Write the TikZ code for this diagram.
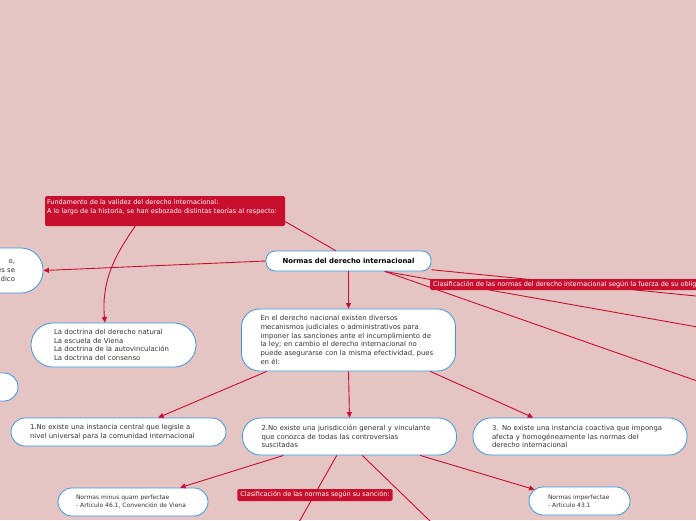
\documentclass[tikz,border=0pt]{standalone}
\usepackage{fontspec}
\setmainfont{DejaVu Sans}
\usetikzlibrary{arrows.meta, calc}
\definecolor{bgpink}{RGB}{229,196,196}
\definecolor{labelred}{RGB}{200,16,46}
\definecolor{edgeblue}{RGB}{56,152,222}
\tikzset{
  topic/.style = {
    rectangle, draw=edgeblue, fill=white, line width=0.8pt,
    text=black!80, align=left, inner ysep=0pt,
    font=\fontsize{6.9}{8.7}\selectfont
  },
  smalltopic/.style = {
    topic, font=\fontsize{6}{8}\selectfont
  },
  tag/.style = {
    rectangle, rounded corners=1.5pt, fill=labelred,
    text=white, align=left, inner xsep=3pt,
    font=\fontsize{6.5}{9}\selectfont
  },
  conn/.style = {draw=labelred, line width=0.9pt},
  arr/.style = {conn, -{Triangle[length=5.5pt,width=5pt]}}
}

\begin{document}
\begin{tikzpicture}[x=1pt, y=-1pt]
  \useasboundingbox (0,0) rectangle (696,520);
  \clip (0,0) rectangle (696,520);
  \fill[bgpink] (0,0) rectangle (696,520);

  % Nodes
  \node[topic, rounded corners=9pt, minimum width=165pt, minimum height=20pt,
        align=center, font=\fontsize{6.9}{8.7}\selectfont\bfseries, text=black] (normas) at (348.5,261)
    {Normas del derecho internacional};
  \node[tag, text width=236pt, inner xsep=2pt, minimum height=30pt] (fundamento) at (165,211)
    {Fundamento de la validez del derecho internacional:\\
     A lo largo de la historia, se han esbozado distintas teorías al respecto:\\ \mbox{}};
  \node[topic, rounded corners=22pt, text width=119pt, inner xsep=23pt, minimum height=44pt] (doctrinas) at (113.5,345)
    {La doctrina del derecho natural\\
     La escuela de Viena\\
     La doctrina de la autovinculación\\
     La doctrina del consenso};
  \node[topic, rounded corners=22pt, text width=110pt, inner xsep=28pt, minimum height=45pt, align=right] (izquierda) at (-40,270.5)
    {o,\hspace{8pt}\\ es se\\ dico};
  \node[topic, rounded corners=14pt, minimum width=150pt, minimum height=28pt] (vacio) at (-57,387) {};
  \node[topic, rounded corners=18pt, text width=176pt, inner xsep=19pt, minimum height=62pt] (nacional) at (348.5,340)
    {En el derecho nacional existen diversos\\
     mecanismos judiciales o administrativos para\\
     imponer las sanciones ante el incumplimiento de\\
     la ley; en cambio el derecho internacional no\\
     puede asegurarse con la misma efectividad, pues\\
     en él:};
  \node[topic, rounded corners=14pt, text width=177pt, inner xsep=19pt, minimum height=28pt] (legisla) at (118.5,432)
    {1.No existe una instancia central que legisle a\\
     nivel universal para la comunidad internacional};
  \node[topic, rounded corners=18pt, text width=176pt, inner xsep=19pt, minimum height=37pt] (jurisdiccion) at (349.5,436.5)
    {2.No existe una jurisdicción general y vinculante\\
     que conozca de todas las controversias\\
     suscitadas};
  \node[topic, rounded corners=18pt, text width=176pt, inner xsep=19pt, minimum height=37pt] (coactiva) at (580,436.5)
    {3. No existe una instancia coactiva que imponga\\
     afecta y homogéneamente las normas del\\
     derecho internacional};
  \node[smalltopic, rounded corners=14pt, text width=114pt, inner xsep=18pt, minimum height=28pt] (minus) at (133,502)
    {Normas minus quam perfectae\\
     - Artículo 46.1, Convención de Viena};
  \node[smalltopic, rounded corners=14pt, text width=63pt, inner xsep=19pt, minimum height=28pt] (imperfectae) at (579.5,501)
    {Normas imperfectae\\
     - Artículo 43.1};
  \coordinate (fueraA) at (720,298.4);
  \coordinate (fueraB) at (720,331);
  \coordinate (fueraC) at (720,389);
  \coordinate (fueraD) at (282,552);
  \coordinate (fueraE) at (462,552);

  % Connections
  \draw[conn] (normas.141) -- (fundamento.-5);
  \draw[arr] (fundamento.-153) to[out=-125, in=95] (doctrinas.111);
  \draw[arr] (normas.west) -- (izquierda.east);
  \draw[arr] (normas.south) -- (nacional.north);
  \draw[conn] (normas.-6) -- (fueraA);
  \draw[conn] (normas.-16) -- (fueraB);
  \draw[conn] (normas.-16) -- (fueraC);
  \draw[arr] (nacional.-159) -- (legisla.20);
  \draw[arr] (nacional.south) -- (jurisdiccion.north);
  \draw[arr] (nacional.-21) -- (coactiva.158);
  \draw[arr] (jurisdiccion.-164) -- (minus.17);
  \draw[conn] (jurisdiccion.-124) -- (fueraD);
  \draw[conn] (jurisdiccion.-56) -- (fueraE);
  \draw[arr] (jurisdiccion.-15) -- ($(imperfectae.north west)+(6,3)$);

  % Labels over the lines
  \node[tag, anchor=west, minimum height=11pt, inner ysep=1pt] (fuerza) at (430,284.5)
    {Clasificación de las normas del derecho internacional según la fuerza de su obligatoriedad:};
  \node[tag, minimum height=12pt, inner ysep=1pt] (sancion) at (315,495)
    {Clasificación de las normas según su sanción:};
\end{tikzpicture}
\end{document}
